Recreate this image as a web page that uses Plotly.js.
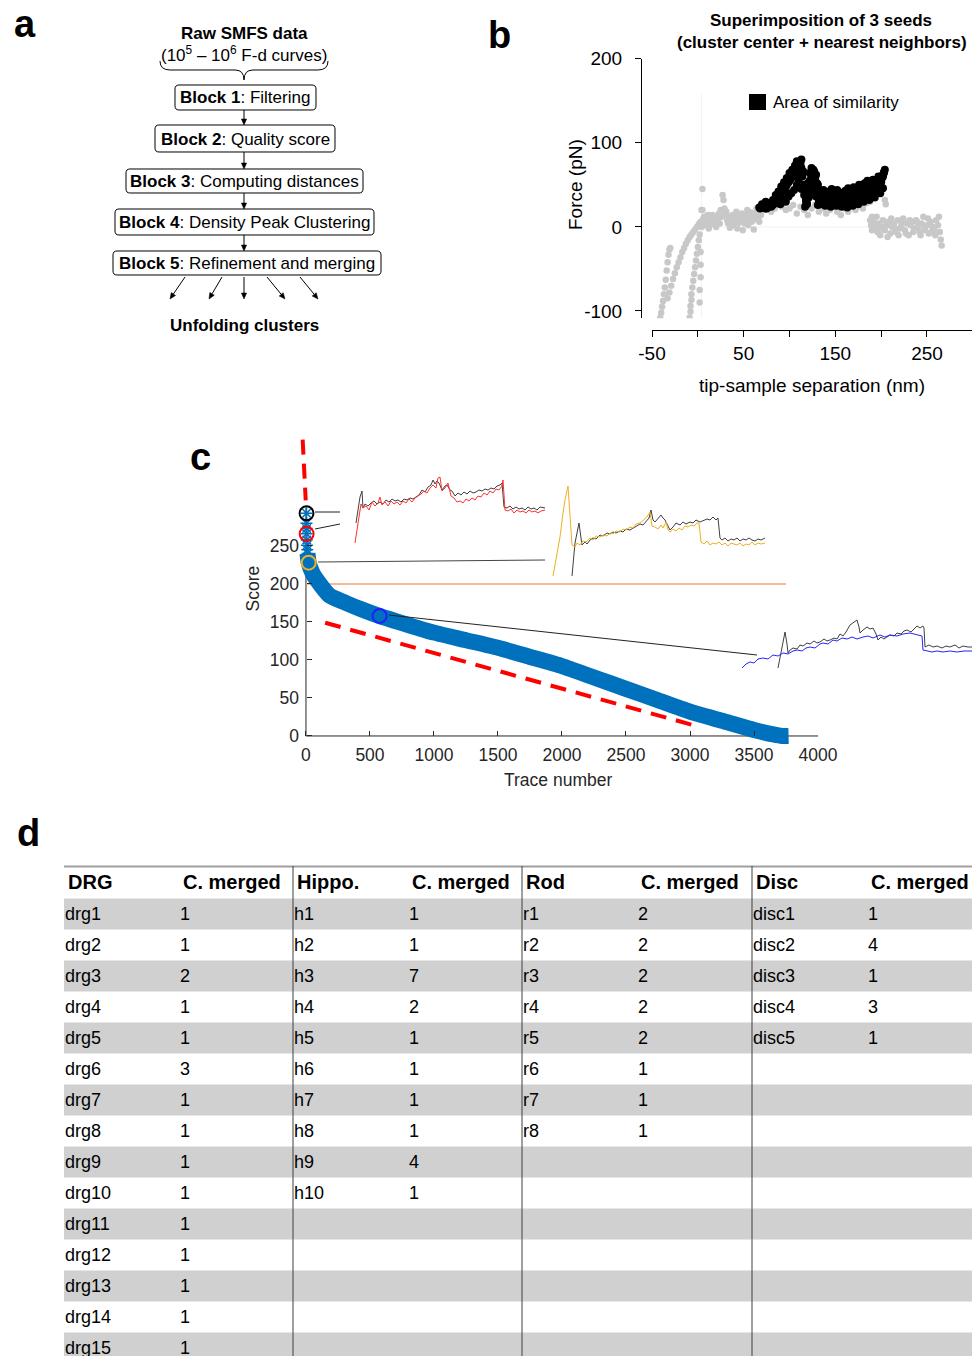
<!DOCTYPE html>
<html><head><meta charset="utf-8">
<script src="https://cdn.plot.ly/plotly-3.0.1.min.js"></script>
<style>html,body{margin:0;padding:0;background:#fff}#chart{width:972px;height:1356px}</style>
</head><body><div id="chart"></div>
<script>
// ---------------- DATA ----------------
// Panel a (flowchart text)
const flowTitle = 'Raw SMFS data';
const flowSubtitle = '(10<sup>5</sup> – 10<sup>6</sup> F-d curves)';
const blockNames = ['Block 1','Block 2','Block 3','Block 4','Block 5'];
const blockTasks = ['Filtering','Quality score','Computing distances','Density Peak Clustering','Refinement and merging'];
const flowOutput = 'Unfolding clusters';

// Panel b: three superimposed seeds (grey) and area of similarity (black)
const grayX1 = [-41,-40,-39,-38,-37,-36,-35,-34,-33,-32,-31,-30];
const grayY1 = [-108,-102,-95,-88,-80,-72,-63,-52,-42,-33,-27,-25];
const grayX2 = [-33,-31,-29,-27,-25,-23,-21,-19,-17,-15,-13,-11,-9,-7,-5,-3,-1,1,3];
const grayY2 = [-85,-78,-70,-62,-55,-48,-42,-36,-30,-25,-20,-16,-12,-9,-6,-3,0,3,6];
const grayX3 = [-9,-8,-8,-7,-7,-6,-5,-4,-3,-2,-1,0,1,2,2,2,3,3,3,4,4,5];
const grayY3 = [-108,-101,-94,-87,-80,-72,-64,-56,-48,-40,-32,-24,-16,-9,-90,-75,-60,-45,-30,0,20,45];
const grayX4 = [5,7,9,11,13,15,17,19,21,23,25,27,28,30,32,34,36,38,40,42,44,46,48,50,52,54,56,58,60,62,64,66,68,70];
const grayY4 = [20,12,8,14,5,10,3,12,8,16,20,38,32,15,8,12,5,14,10,18,6,12,16,9,14,20,11,17,8,15,22,12,18,24];
const grayX5 = [6,8,10,12,14,16,18,20,22,24,26,29,31,33,35,37,39,41,43,45,47,49,51,53,55,57,59,61,63,65,67,69];
const grayY5 = [10,2,5,-2,8,14,6,0,10,4,12,22,18,4,-1,8,2,12,-2,5,9,-4,4,8,2,12,6,-3,10,18,6,14];
const grayX6 = [72,76,80,84,88,92,96,100,104,108,112,116,120,124,128,132,136,140,144,148,152,156,160,164,168,172,176,180,184,188,190];
const grayY6 = [20,25,18,22,28,24,20,22,26,16,24,20,14,22,26,18,22,16,20,24,18,14,22,18,24,20,26,22,28,30,12];
const grayX7 = [188,189,190,192,194,196,198,200,202,204,206,208,210,212,214,216,218,220,222,224,226,228,230,232,234,236,238,240,242,244,246,248,250,252,254,256,258,260,262,264,265,266];
const grayY7 = [8,2,-4,6,0,-6,4,-2,8,-4,2,6,-8,0,4,-6,8,-2,2,10,-4,4,-10,2,6,-2,8,0,-6,4,12,-4,2,-8,6,0,-4,8,2,-6,-15,-22];
const grayX8 = [191,195,199,203,207,211,215,219,223,227,231,235,239,243,247,251,255,259,263,204,205];
const grayY8 = [10,12,-10,0,-12,10,-2,-10,6,-8,8,-6,6,-10,0,10,-6,-10,12,32,27];

const blackXA = [67,70,73,76,79,82,85,88,91,94,97,100,103,106,109,111,112,114,116,118,120,122,124,126,128,130,132,134,137,140,143,146,149,152,155,158,161,164,167,170,173,176,179,182,185,188,191,194,197,200,202,204];
const blackYA = [23,24,25,23,27,26,30,35,40,46,50,55,60,64,70,77,75,60,38,30,42,55,62,68,58,40,30,34,33,30,36,32,29,35,31,34,30,36,33,38,41,37,44,40,47,45,50,48,55,53,62,68];
const blackXB = [68,71,74,77,80,83,86,89,92,95,98,101,104,107,110,113,115,117,119,121,123,125,127,129,131,133,135,138,141,144,147,150,153,156,159,162,165,168,171,174,177,180,183,186,189,192,195,198,201,203];
const blackYB = [22,23,22,26,24,28,32,37,42,44,52,57,63,68,74,80,66,45,28,35,48,58,66,62,50,35,28,31,27,33,30,26,32,28,33,27,31,35,30,36,39,34,42,38,44,48,46,52,58,64];
const blackXC = [72,75,78,81,84,87,90,93,96,99,102,105,108,110,113,116,118,120,122,124,126,128,130,132,134,136,139,142,145,148,151,154,157,160,163,166,169,172,175,178,181,184,187,190,193,196,199,202];
const blackYC = [24,22,25,27,29,33,38,43,47,53,58,62,67,72,70,50,33,38,50,60,64,55,45,33,27,32,29,35,28,31,36,30,34,29,32,37,34,31,39,35,42,38,45,42,49,47,52,60];
const blackXD = [70,74,78,82,86,90,93,96,99,102,105,108,110,113,117,119,121,123,125,127,129,131,134,137,140,143,146,149,152,155,158,161,164,167,170,173,176,179,182,185,188,191,194,197,200,203];
const blackYD = [27,30,28,32,29,27,33,30,36,40,44,50,56,45,24,27,36,42,50,45,36,26,40,44,38,42,45,40,44,41,38,43,46,40,47,44,50,46,52,55,49,56,53,60,57,65];
const blackXE = [85,88,91,94,97,100,103,106,108,110,112,115,120,122,124,126,128,130,133,136,139,142,145,148,151,154,157,160,163,166,169,172,175,178,181,184,187,190,193,196,199,202];
const blackYE = [38,42,48,53,58,64,68,73,78,70,65,45,52,64,70,66,60,52,35,30,25,28,24,27,25,29,24,26,23,28,25,30,27,33,30,36,32,38,35,42,40,46];

const bXTicks = [-50,50,150,250];
const bXTickText = ['-50','50','150','250'];
const bXMinorTicks = [0,100,200];
const bYTicks = [-100,0,100,200];
const bYTickText = ['-100','0','100','200'];

// Panel c: quality score ranking
const scoreTrace = [12,21,52,104,182,312,442,572,800,1000,1250,1500,1750,2000,2250,2500,2750,3000,3250,3500,3650,3720,3770];
const scoreValue = [240,228,214,201,185,175,166,158,146,136,126,116,104,92,77,62,47,32,20,8,2,0,0];
const topSeedTrace = [4,4,5,5,6,8,10,13];
const topSeedScore = [293,280,273,266,258,251,245,240];
const circleTrace = [4,5,21,575];
const circleScore = [293,266,228,158];
const thresholdTrace = [0,3750];
const thresholdScore = [200,200];
const guide1Trace = [-26,-2];
const guide1Score = [390,310];
const guide2Trace = [150,3010];
const guide2Score = [149,15];
const cXTicks = [0,500,1000,1500,2000,2500,3000,3500,4000];
const cYTicks = [0,50,100,150,200,250];

// Panel c insets (force curves, arbitrary units)
const in1RedX = [12,14,16,18,20,23,26,29,32,35,37,39,42,45,48,51,54,57,60,63,66,69,72,75,78,81,84,87,90,93,95,97,99,102,105,108,111,114,117,120,123,126,129,132,135,138,141,144,147,150,153,156,159,160,162,165,168,171,174,177,180,183,186,189,192,195,198,202];
const in1RedY = [5,18,34,44,40,42,38,46,42,45,51,43,46,42,47,44,46,43,47,45,49,46,50,52,54,57,55,60,63,60,70,71,57,60,65,52,50,46,47,45,49,47,50,48,52,51,55,53,57,55,59,58,62,68,38,37,39,35,38,36,37,35,38,36,37,35,37,38];
const in1BlkX = [13,15,17,19,20,22,25,28,31,34,37,40,43,46,49,52,55,58,61,64,67,70,73,76,79,82,85,88,90,92,94,96,99,102,104,107,109,112,115,118,121,124,127,130,133,136,139,142,145,148,151,154,157,159,161,164,167,170,173,176,179,182,185,188,191,194,197,202];
const in1BlkY = [25,40,51,57,40,44,42,45,47,44,46,44,48,46,49,47,48,46,49,48,50,49,51,53,58,56,61,63,68,64,67,65,58,62,63,58,57,52,55,53,56,54,57,55,56,58,57,59,58,60,59,62,63,65,41,40,42,39,41,39,40,38,41,39,40,38,41,40];
const in2YelX = [3,6,10,13,15,18,20,22,25,27,30,33,36,40,43,46,50,53,57,60,63,66,70,73,76,80,83,86,90,93,96,100,102,105,108,111,113,116,118,120,123,126,129,132,135,138,141,144,147,149,151,154,157,160,163,166,169,172,175,178,181,184,187,190,193,196,199,202,205,208,211,215];
const in2YelY = [2,20,41,65,78,92,60,33,31,35,33,37,36,40,38,42,41,43,42,45,44,47,46,49,48,51,50,54,55,58,60,66,52,51,49,53,50,56,48,46,49,47,50,48,52,51,53,52,55,55,36,34,37,33,35,34,36,33,35,32,35,34,33,35,32,34,33,36,33,35,34,35];
const in2BlkX = [22,23,25,27,29,31,32,35,37,40,43,46,50,53,57,60,63,66,70,73,76,80,83,86,90,93,96,99,101,103,105,108,111,113,115,118,120,123,126,130,133,136,140,143,146,150,153,157,160,163,166,168,170,172,175,178,181,184,187,190,193,196,199,202,205,208,211,215];
const in2BlkY = [2,15,35,45,55,40,33,36,34,38,40,39,43,42,45,44,46,45,47,46,49,48,50,52,54,53,57,60,68,58,56,60,63,60,58,52,48,51,55,53,56,54,56,55,58,56,57,59,58,61,58,60,40,38,40,37,39,38,40,37,39,38,40,38,37,39,38,40];
const in3BluX = [2,6,10,14,18,23,28,33,38,43,48,53,57,62,66,70,75,80,83,88,93,97,102,107,112,117,123,128,133,140,145,150,157,163,170,175,180,182,183,187,192,197,203,210,217,224,232];
const in3BluY = [4,8,10,9,13,14,13,17,16,19,18,21,22,21,24,25,24,28,29,28,32,31,34,33,35,33,35,36,34,37,35,37,36,38,39,38,37,36,22,21,20,21,20,21,20,21,21];
const in3BlkX = [38,40,42,45,47,48,50,53,57,60,63,67,70,74,77,80,84,87,90,94,97,100,103,106,110,113,117,119,120,123,127,130,133,136,138,141,144,147,150,154,157,161,164,167,171,174,177,180,183,184,185,189,193,197,202,206,210,215,219,223,228,232];
const in3BlkY = [4,15,22,40,28,19,22,24,23,27,26,29,28,31,29,30,33,31,32,34,33,38,36,40,47,49,52,45,39,42,45,43,44,38,32,35,33,35,37,36,39,38,41,42,40,43,46,44,46,44,25,27,25,26,24,26,25,27,24,26,25,25];

// Panel d: table
const tableHeaders = ['DRG','C. merged','Hippo.','C. merged','Rod','C. merged','Disc','C. merged'];
const drgNames = ['drg1','drg2','drg3','drg4','drg5','drg6','drg7','drg8','drg9','drg10','drg11','drg12','drg13','drg14','drg15'];
const drgMerged = [1,1,2,1,1,3,1,1,1,1,1,1,1,1,1];
const hippoNames = ['h1','h2','h3','h4','h5','h6','h7','h8','h9','h10'];
const hippoMerged = [1,1,7,2,1,1,1,1,4,1];
const rodNames = ['r1','r2','r3','r4','r5','r6','r7','r8'];
const rodMerged = [2,2,2,2,2,1,1,1];
const discNames = ['disc1','disc2','disc3','disc4','disc5'];
const discMerged = [1,4,1,3,1];

// ---------------- LAYOUT HELPERS ----------------
const W=972, H=1356;
const X=p=>p/W, Y=p=>1-p/H;
const FONT='Arial, "Liberation Sans", Helvetica, sans-serif';
const P=(x,y)=>X(x).toFixed(5)+','+Y(y).toFixed(5);
function rrect(x0,y0,x1,y1,r){
  return `M${P(x0+r,y0)} L${P(x1-r,y0)} Q${P(x1,y0)} ${P(x1,y0+r)} L${P(x1,y1-r)} Q${P(x1,y1)} ${P(x1-r,y1)} L${P(x0+r,y1)} Q${P(x0,y1)} ${P(x0,y1-r)} L${P(x0,y0+r)} Q${P(x0,y0)} ${P(x0+r,y0)} Z`;
}
const shapes=[], ann=[];
function txt(t,x,y,size,opts){
  ann.push(Object.assign({text:t,x:X(x),y:Y(y),xref:'paper',yref:'paper',showarrow:false,
    xanchor:'center',yanchor:'middle',font:{family:FONT,size:size,color:'#000'}},opts||{}));
}
function pline(x0,y0,x1,y1,color,w){
  shapes.push({type:'line',xref:'paper',yref:'paper',x0:X(x0),y0:Y(y0),x1:X(x1),y1:Y(y1),line:{color:color,width:w}});
}
function arrow(x0,y0,x1,y1){
  const dx=x1-x0, dy=y1-y0, L=Math.hypot(dx,dy), ux=dx/L, uy=dy/L, hl=6, hw=2.6;
  const bx=x1-ux*hl, by=y1-uy*hl;
  pline(x0,y0,bx,by,'#000',1);
  shapes.push({type:'path',xref:'paper',yref:'paper',
    path:`M${P(x1,y1)} L${P(bx-uy*hw,by+ux*hw)} L${P(bx+uy*hw,by-ux*hw)} Z`,fillcolor:'#000',line:{color:'#000',width:0.5}});
}

// panel letters
txt('<b>a</b>',25,24,38); txt('<b>b</b>',499,35,38); txt('<b>c</b>',200,457,38); txt('<b>d</b>',28,833,38);

// ---- Panel a ----
txt('<b>'+flowTitle+'</b>',244,34,17);
txt(flowSubtitle,244,54,17);
shapes.push({type:'path',xref:'paper',yref:'paper',
  path:`M${P(160,61)} Q${P(160,70)} ${P(170,70)} L${P(235,70)} Q${P(244,70)} ${P(244,80)} Q${P(244,70)} ${P(253,70)} L${P(318,70)} Q${P(328,70)} ${P(328,61)}`,
  line:{color:'#000',width:1}});
const boxes=[[175,85,316,110],[155,125,335,152],[126,169,363,193],[115,209,374,235],[113,251,381,275]];
boxes.forEach((b,i)=>{
  shapes.push({type:'path',xref:'paper',yref:'paper',path:rrect(b[0],b[1],b[2],b[3],4),line:{color:'#000',width:1}});
  txt('<b>'+blockNames[i]+'</b>: '+blockTasks[i],(b[0]+b[2])/2,(b[1]+b[3])/2+0.5,17);
  if(i<4) arrow(244,b[3],244,boxes[i+1][1]);
});
[[185,170],[222,209],[244,244],[267,285],[300,318]].forEach(a=>arrow(a[0],277,a[1],299));
txt('<b>'+flowOutput+'</b>',244,325,17);

// ---- Panel b ----
txt('<b>Superimposition of 3 seeds</b>',821,21,17);
txt('<b>(cluster center + nearest neighbors)</b>',822,42,17);
shapes.push({type:'rect',xref:'paper',yref:'paper',x0:X(749),x1:X(766),y0:Y(110),y1:Y(94),fillcolor:'#000',line:{width:0}});
txt('Area of similarity',771,102,17,{xanchor:'left'});
txt('Force (pN)',575,185,19,{textangle:-90});
shapes.push({type:'line',xref:'x',yref:'y',x0:4,x1:4,y0:-108,y1:158,line:{color:'#f2f2f2',width:1},layer:'below'});
shapes.push({type:'line',xref:'x',yref:'y',x0:4,x1:205,y0:0,y1:0,line:{color:'#f2f2f2',width:1},layer:'below'});

// ---- Panel c ----
shapes.push({type:'line',xref:'x2',yref:'y2',x0:0,x1:4000,y0:0,y1:0,line:{color:'#262626',width:1},layer:'below'});
shapes.push({type:'line',xref:'x2',yref:'y2',x0:0,x1:0,y0:0,y1:300,line:{color:'#262626',width:1},layer:'below'});
pline(315,512,340,512,'#222',1);
pline(315,529,340,524,'#222',1);
pline(318,562,545,560,'#444',1);
pline(389,615,757,655,'#222',1);

// ---- Panel d ----
const colStarts=[64,293,522,752];
const rowH=31, row1=914;
for(let i=0;i<15;i+=2){
  shapes.push({type:'rect',xref:'paper',yref:'paper',x0:X(64),x1:X(972),y0:Y(row1+i*rowH+15.5),y1:Y(row1+i*rowH-15.5),fillcolor:'#d0d0d0',line:{width:0},layer:'below'});
}
pline(64,866.5,972,866.5,'#a0a0a0',2);
colStarts.slice(1).forEach(c=>pline(c,866,c,1356,'#404040',1));
tableHeaders.forEach((h,i)=>{
  const c=colStarts[Math.floor(i/2)];
  txt('<b>'+h+'</b>',c+(i%2===0?2:117),882,20,{xanchor:'left'});
});
[[drgNames,drgMerged],[hippoNames,hippoMerged],[rodNames,rodMerged],[discNames,discMerged]].forEach((col,ci)=>{
  const c=colStarts[ci];
  col[0].forEach((n,r)=>{
    txt(n,c-1,row1+r*rowH,18,{xanchor:'left'});
    txt(String(col[1][r]),c+114,row1+r*rowH,18,{xanchor:'left'});
  });
});

// ---------------- TRACES ----------------
const cat=(...a)=>[].concat(...a);
const traces=[
  {type:'scatter',mode:'markers',x:cat(grayX1,grayX2,grayX3,grayX4,grayX5,grayX6,grayX7,grayX8),
   y:cat(grayY1,grayY2,grayY3,grayY4,grayY5,grayY6,grayY7,grayY8),xaxis:'x',yaxis:'y',
   marker:{color:'#c8c8c8',size:6.5},showlegend:false,name:'seeds'},
  {type:'scatter',mode:'markers',x:cat(blackXA,blackXB,blackXC,blackXD,blackXE),y:cat(blackYA,blackYB,blackYC,blackYD,blackYE),xaxis:'x',yaxis:'y',
   marker:{color:'#000',size:8},showlegend:false,name:'Area of similarity'},
  // panel c
  {type:'scatter',mode:'lines',x:thresholdTrace,y:thresholdScore,xaxis:'x2',yaxis:'y2',line:{color:'#f0a07a',width:1.3},showlegend:false},
  {type:'scatter',mode:'lines',x:guide1Trace,y:guide1Score,xaxis:'x2',yaxis:'y2',line:{color:'#ff0000',width:4,dash:'15px,9px'},showlegend:false},
  {type:'scatter',mode:'lines',x:guide2Trace,y:guide2Score,xaxis:'x2',yaxis:'y2',line:{color:'#ff0000',width:4,dash:'16px,10px'},showlegend:false},
  {type:'scatter',mode:'lines',x:scoreTrace,y:scoreValue,xaxis:'x2',yaxis:'y2',line:{color:'#0072BD',width:16,shape:'spline',smoothing:0.6},showlegend:false},
  {type:'scatter',mode:'markers',x:topSeedTrace,y:topSeedScore,xaxis:'x2',yaxis:'y2',
   marker:{symbol:'asterisk-open',size:10,color:'#0072BD',line:{width:1.5,color:'#0072BD'}},showlegend:false},
  {type:'scatter',mode:'markers',x:circleTrace,y:circleScore,xaxis:'x2',yaxis:'y2',
   marker:{symbol:'circle-open',size:14,color:['#000000','#ff0000','#EDB120','#1f1fff'],line:{width:2}},showlegend:false},
  // insets
  {type:'scatter',mode:'lines',x:in1BlkX,y:in1BlkY,xaxis:'x3',yaxis:'y3',line:{color:'#404040',width:1},showlegend:false},
  {type:'scatter',mode:'lines',x:in1RedX,y:in1RedY,xaxis:'x3',yaxis:'y3',line:{color:'#ff3030',width:1},showlegend:false},
  {type:'scatter',mode:'lines',x:in2BlkX,y:in2BlkY,xaxis:'x4',yaxis:'y4',line:{color:'#404040',width:1},showlegend:false},
  {type:'scatter',mode:'lines',x:in2YelX,y:in2YelY,xaxis:'x4',yaxis:'y4',line:{color:'#EDB120',width:1},showlegend:false},
  {type:'scatter',mode:'lines',x:in3BlkX,y:in3BlkY,xaxis:'x5',yaxis:'y5',line:{color:'#404040',width:1},showlegend:false},
  {type:'scatter',mode:'lines',x:in3BluX,y:in3BluY,xaxis:'x5',yaxis:'y5',line:{color:'#2525ff',width:1},showlegend:false}
];

const hid={visible:false,fixedrange:true};
const layout={
  width:W,height:H,margin:{l:0,r:0,t:0,b:0},paper_bgcolor:'#fff',plot_bgcolor:'rgba(0,0,0,0)',
  font:{family:FONT,color:'#000'},showlegend:false,
  xaxis:{domain:[X(652),1],range:[-50,299.1],anchor:'free',position:Y(330),showline:true,linecolor:'#000',linewidth:1,
    ticks:'outside',ticklen:6,tickcolor:'#000',tickvals:bXTicks,ticktext:bXTickText,tickfont:{size:19,color:'#000'},
    minor:{tickvals:bXMinorTicks,ticks:'outside',ticklen:6,tickcolor:'#000',showgrid:false},
    showgrid:false,zeroline:false,title:{text:'tip-sample separation (nm)',font:{size:19,color:'#000'},standoff:15}},
  yaxis:{domain:[Y(318.3),Y(58.7)],range:[-108.7,200],anchor:'free',position:X(641),showline:true,linecolor:'#000',linewidth:1,
    ticks:'outside',ticklen:6,tickcolor:'#000',tickvals:bYTicks,ticktext:bYTickText,tickfont:{size:19,color:'#000'},
    ticklabelstandoff:9,showgrid:false,zeroline:false},
  xaxis2:{domain:[X(298.3),X(818)],range:[-60,4000],anchor:'free',position:Y(736),showline:false,
    ticks:'inside',ticklen:5,tickcolor:'#262626',tickvals:cXTicks,tickfont:{size:17.5,color:'#262626'},ticklabelstandoff:6,
    showgrid:false,zeroline:false,title:{text:'Trace number',font:{size:17.5,color:'#262626'},standoff:10}},
  yaxis2:{domain:[Y(745.1),Y(432)],range:[-12,400],anchor:'free',position:X(306),showline:false,
    ticks:'inside',ticklen:5,tickcolor:'#262626',tickvals:cYTicks,tickfont:{size:17.5,color:'#262626'},ticklabelstandoff:7,
    showgrid:false,zeroline:false,title:{text:'Score',font:{size:17.5,color:'#262626'},standoff:4}},
  xaxis3:Object.assign({domain:[X(343),X(550)],range:[0,207],anchor:'y3'},hid),
  yaxis3:Object.assign({domain:[Y(548),Y(475)],range:[0,73],anchor:'x3'},hid),
  xaxis4:Object.assign({domain:[X(550),X(770)],range:[0,220],anchor:'y4'},hid),
  yaxis4:Object.assign({domain:[Y(578),Y(480)],range:[0,98],anchor:'x4'},hid),
  xaxis5:Object.assign({domain:[X(740),X(972)],range:[0,232],anchor:'y5'},hid),
  yaxis5:Object.assign({domain:[Y(672),Y(615)],range:[0,57],anchor:'x5'},hid),
  shapes:shapes,annotations:ann
};
Plotly.newPlot('chart',traces,layout,{displayModeBar:false,staticPlot:true});
</script></body></html>
